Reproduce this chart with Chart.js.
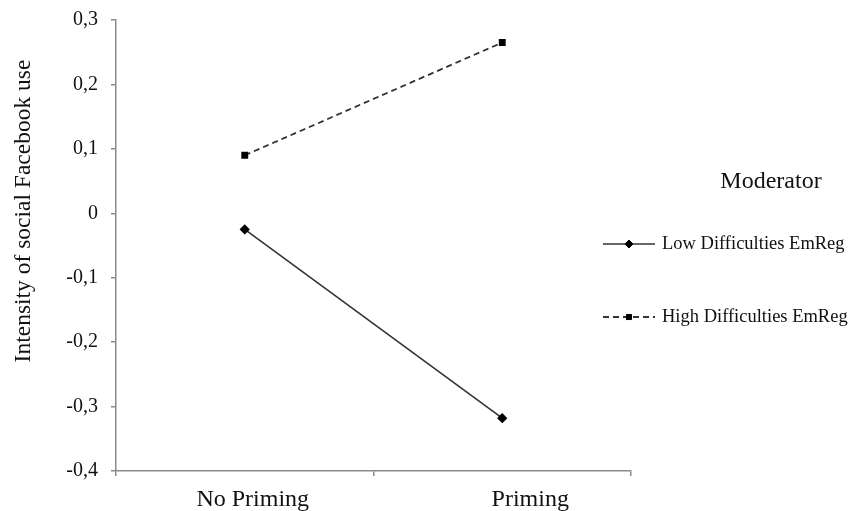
<!DOCTYPE html>
<html>
<head>
<meta charset="utf-8">
<script src="https://cdn.jsdelivr.net/npm/chart.js@4.4.0/dist/chart.umd.min.js"></script>
<style>
  html, body { margin: 0; padding: 0; background: #fff; }
  #wrap { width: 860px; height: 511px; position: relative; }
</style>
</head>
<body>
<div id="wrap"><canvas id="c" width="860" height="511"></canvas></div>
<script>
const categories = ['No Priming', 'Priming'];
const lowDifficulties = [-0.025, -0.318];
const highDifficulties = [0.09, 0.265];
const seriesNames = ['Low Difficulties EmReg', 'High Difficulties EmReg'];
const yTicks = [-0.4, -0.3, -0.2, -0.1, 0, 0.1, 0.2, 0.3];
const yTitle = 'Intensity of social Facebook use';
const legendTitle = 'Moderator';

// layout-only constants
const xLabelShift = [8, 28];
const FONT = '"Liberation Serif", "Times New Roman", serif';
const AXIS = '#8a8a8a';

function fmt(v) {
  const r = Math.round(v * 10) / 10;
  if (r === 0) return '0';
  return r.toFixed(1).replace('.', ',');
}

const customDraw = {
  id: 'customDraw',
  afterDraw(chart) {
    const ctx = chart.ctx;
    const xs = chart.scales.x;
    // x category labels
    ctx.save();
    ctx.fillStyle = '#111';
    ctx.font = '24px ' + FONT;
    ctx.textAlign = 'center';
    ctx.textBaseline = 'alphabetic';
    chart.data.labels.forEach((lab, i) => {
      ctx.fillText(lab, xs.getPixelForValue(i) + xLabelShift[i], chart.chartArea.bottom + 35);
    });
    ctx.restore();

    // y-axis title
    ctx.save();
    ctx.fillStyle = '#111';
    ctx.font = '23.5px ' + FONT;
    ctx.textAlign = 'center';
    ctx.textBaseline = 'middle';
    ctx.translate(24, 211);
    ctx.rotate(-Math.PI / 2);
    ctx.fillText(yTitle, 0, 0);
    ctx.restore();

    // legend
    ctx.save();
    ctx.fillStyle = '#111';
    ctx.font = '24px ' + FONT;
    ctx.textAlign = 'center';
    ctx.textBaseline = 'middle';
    ctx.fillText(legendTitle, 771, 182);
    const ys = [244, 317];
    chart.data.datasets.forEach((ds, i) => {
      const y = ys[i];
      ctx.save();
      ctx.strokeStyle = ds.borderColor;
      ctx.lineWidth = ds.borderWidth;
      ctx.setLineDash(ds.borderDash || []);
      ctx.beginPath();
      ctx.moveTo(603, y);
      ctx.lineTo(655, y);
      ctx.stroke();
      ctx.restore();
      ctx.save();
      ctx.fillStyle = ds.pointBackgroundColor;
      ctx.strokeStyle = ds.pointBorderColor;
      ctx.lineWidth = 1;
      Chart.helpers.drawPoint(ctx, {pointStyle: ds.pointStyle, radius: ds.pointRadius, borderWidth: 1, rotation: 0}, 629, y);
      ctx.restore();
      ctx.fillStyle = '#111';
      ctx.font = '18.5px ' + FONT;
      ctx.textAlign = 'left';
      ctx.textBaseline = 'middle';
      ctx.fillText(ds.label, 662, y);
    });
    ctx.restore();
  }
};

new Chart(document.getElementById('c'), {
  type: 'line',
  data: {
    labels: categories,
    datasets: [
      {
        label: seriesNames[0],
        data: lowDifficulties,
        borderColor: '#333',
        borderWidth: 1.6,
        pointStyle: 'rectRot',
        pointRadius: 4,
        pointBackgroundColor: '#000',
        pointBorderColor: '#000',
        fill: false,
        tension: 0
      },
      {
        label: seriesNames[1],
        data: highDifficulties,
        borderColor: '#333',
        borderWidth: 1.8,
        borderDash: [6, 4],
        pointStyle: 'rect',
        pointRadius: 3.6,
        pointBackgroundColor: '#000',
        pointBorderColor: '#000',
        fill: false,
        tension: 0
      }
    ]
  },
  options: {
    responsive: false,
    animation: false,
    devicePixelRatio: 1,
    layout: { padding: { left: 0, right: 229, top: 20, bottom: 0 } },
    plugins: { legend: { display: false }, tooltip: { enabled: false } },
    scales: {
      x: {
        type: 'category',
        offset: true,
        grid: { display: true, offset: true, drawOnChartArea: false, drawTicks: true, tickLength: 5, color: AXIS, lineWidth: 1.5 },
        border: { display: true, color: AXIS, width: 1.5 },
        ticks: { display: false },
        afterFit(scale) { scale.height = 40; scale.paddingLeft = 0; scale.paddingRight = 0; }
      },
      y: {
        min: -0.4,
        max: 0.3,
        afterBuildTicks(scale) { scale.ticks = yTicks.map(v => ({ value: v })); },
        grid: { display: true, drawOnChartArea: false, drawTicks: true, tickLength: 5, color: AXIS, lineWidth: 1.5 },
        border: { display: true, color: AXIS, width: 1.5 },
        ticks: { color: '#111', font: { family: FONT, size: 20 }, padding: 13, callback: (v) => fmt(v) },
        afterFit(scale) { scale.width = 116; scale.paddingTop = 0; scale.paddingBottom = 0; }
      }
    }
  },
  plugins: [customDraw]
});
</script>
</body>
</html>
